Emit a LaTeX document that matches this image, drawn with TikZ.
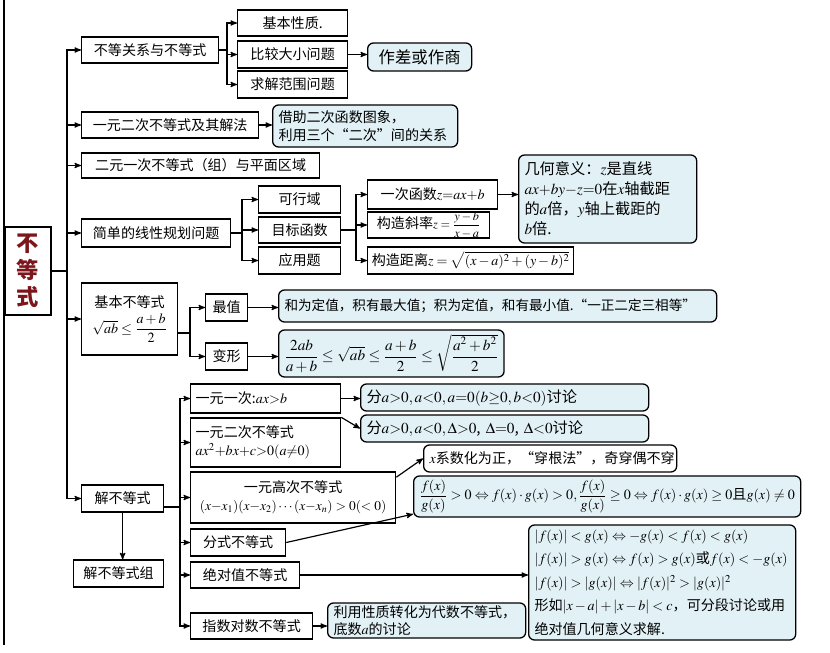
\documentclass[tikz,border=0pt]{standalone}
\usepackage{amssymb,amsmath}
\usepackage{mathptmx}
\usepackage{fontspec}
\setmainfont{Noto Sans CJK SC}
\usepackage{tikz}
\usetikzlibrary{shapes,arrows,positioning}
\usepackage{xcolor}
\definecolor{tipblue}{RGB}{226,241,246}
\definecolor{titlered}{RGB}{125,22,28}
\newcommand{\fs}{\fontsize{12}{15}\selectfont}
\newcommand{\fb}{\fontsize{13}{17}\selectfont}

\begin{document}
\begin{tikzpicture}[x=0.03cm,y=-0.03cm,>=stealth',line width=1pt,
  box/.style={draw,line width=1.1pt,inner sep=1pt,align=center,anchor=west,font=\fs},
  tip/.style={box,rounded corners=5pt,fill=tipblue,inner xsep=5pt,align=left,font=\fb},
  sz/.style 2 args={minimum width=#1*0.3mm,minimum height=#2*0.3mm}]
\useasboundingbox (0,0) rectangle (830,653);
\draw (4,0) -- (4,645);
\node [box,sz={46}{88},anchor=center,text=titlered,font=\fontsize{19}{23}\selectfont\bfseries] (top) at (28,271) {不\\等\\式};

% first level
\node [box,sz={137}{26}] (b1) at (81,50) {不等关系与不等式};
\node [box,sz={177}{26}] (b2) at (81,125) {一元二次不等式及其解法};
\node [box,sz={238}{25}] (b3) at (81,165.5) {二元一次不等式（组）与平面区域};
\node [box,sz={149}{28}] (b4) at (81,233) {简单的线性规划问题};
\node [box,sz={96}{72}] (b5) at (81,319) {基本不等式\\[4pt]$\sqrt{ab}\le\dfrac{a+b}{2}$};
\node [box,sz={82}{27}] (b6) at (81,498.5) {解不等式};
\node [box,sz={90}{27}] (b7) at (73,573.5) {解不等式组};

% second level
\node [box,sz={110}{26}] (c1) at (237,23) {基本性质.};
\node [box,sz={110}{27}] (c2) at (237,54.5) {比较大小问题};
\node [box,sz={110}{27}] (c3) at (237,84.5) {求解范围问题};
\node [tip,sz={104}{28},align=center,font=\fontsize{14}{17}\selectfont] (d1) at (367,57) {作差或作商};
\node [tip,sz={185}{42},text width=5.2cm,font=\fs] (d2) at (272,126) {借助二次函数图象，\\利用三个“二次”间的关系};

\node [box,sz={82}{27}] (e1) at (258,199.5) {可行域};
\node [box,sz={82}{26}] (e2) at (258,230) {目标函数};
\node [box,sz={82}{27}] (e3) at (258,260.5) {应用题};
\node [box,sz={130}{29}] (f1) at (367,194.5) {一次函数$z{=}ax{+}b$};
\node [box,sz={122}{26},inner ysep=0pt] (f2) at (367,225) {构造斜率{\fontsize{10.5}{12}\selectfont$z=\dfrac{y-b}{x-a}$}};
\node [box,sz={206}{27}] (f3) at (367,260.5) {构造距离$z=\sqrt{(x-a)^2+(y-b)^2}$};
\node [tip,sz={178}{88},text width=4.99cm] (g1) at (518,199) {几何意义：$z$是直线\\$ax{+}by{-}z{=}0$在$x$轴截距\\的$a$倍，$y$轴上截距的\\$b$倍.};

\node [box,sz={42}{27}] (h1) at (205,307.5) {最值};
\node [box,sz={42}{27}] (h2) at (205,356.5) {变形};
\node [tip,sz={438}{32},text width=12.79cm,font=\fontsize{11.6}{14}\selectfont] (i1) at (278,306) {和为定值，积有最大值；积为定值，和有最小值.“一正二定三相等”};
\node [tip,sz={199}{47},align=center] (i2) at (278,353.5) {$\dfrac{2ab}{a+b}\le\sqrt{ab}\le\dfrac{a+b}{2}\le\sqrt{\dfrac{a^2+b^2}{2}}$};

\node [box,sz={150}{29},align=left,text width=4.2cm] (j1) at (190,398.5) {一元一次:$ax{>}b$};
\node [box,sz={150}{49},align=left,text width=4.2cm] (j2) at (190,442.5) {一元二次不等式\\$ax^2{+}bx{+}c{>}0(a{\ne}0)$};
\node [box,sz={205}{51}] (j3) at (190,497.5) {一元高次不等式\\{\fontsize{11.5}{14}\selectfont$(x{-}x_1)(x{-}x_2)\cdots(x{-}x_n)>0(<0)$}};
\node [box,sz={95}{27}] (j4) at (190,542.5) {分式不等式};
\node [box,sz={109}{26}] (j5) at (190,575) {绝对值不等式};
\node [box,sz={122}{26}] (j6) at (190,626) {指数对数不等式};

\node [tip,sz={288}{27},text width=8.29cm] (k1) at (360,397.5) {分$a{>}0,a{<}0,a{=}0(b{\ge}0,b{<}0)$讨论};
\node [tip,sz={288}{27},text width=8.29cm] (k2) at (360,428.5) {分$a{>}0,a{<}0,\Delta{>}0$, $\boldsymbol{\Delta}{=}0$, $\boldsymbol{\Delta}{<}0$讨论};
\node [tip,sz={253}{27},text width=7.24cm,fill=white,font=\fs] (k3) at (423,458.5) {$x$系数化为正，“穿根法”，奇穿偶不穿};
\node [tip,sz={387}{41},text width=11.26cm,font=\fs] (k4) at (413,496.5) {$\dfrac{f(x)}{g(x)}>0\Leftrightarrow f(x)\cdot g(x)>0,\dfrac{f(x)}{g(x)}\ge0\Leftrightarrow f(x)\cdot g(x)\ge0$且$g(x)\ne0$};
\node [tip,sz={267}{115},text width=7.66cm,font=\fs] (k5) at (528,582.5) {$|f(x)|<g(x)\Leftrightarrow-g(x)<f(x)<g(x)$\\[5pt]$|f(x)|>g(x)\Leftrightarrow f(x)>g(x)$或$f(x)<-g(x)$\\[5pt]$|f(x)|>|g(x)|\Leftrightarrow|f(x)|^2>|g(x)|^2$\\[5pt]形如$|x-a|+|x-b|<c$，可分段讨论或用\\[5pt]绝对值几何意义求解.};
\node [tip,sz={198}{35},text width=5.59cm,font=\fs] (k6) at (327,620.5) {利用性质转化为代数不等式，\\底数$a$的讨论};

% connectors
\coordinate (t) at (67,271);
\draw (top.east) -- (t);
\foreach \n in {b1,b2,b3,b4,b5,b6}
  \draw [->] (t) |- (\n.west);

\coordinate (s1) at (227,50);
\draw (b1.east) -- (s1);
\foreach \n in {c1,c2,c3}
  \draw [->] (s1) |- (\n.west);
\draw [->] (c2.east) -- (c2.east -| d1.west);
\draw [->] (b2.east) -- (b2.east -| d2.west);

\coordinate (s4) at (242,233);
\draw (b4.east) -- (s4);
\foreach \n in {e1,e2,e3}
  \draw [->] (s4) |- (\n.west);
\coordinate (s5) at (356,230);
\draw (e2.east) -- (s5);
\foreach \n in {f1,f2,f3}
  \draw [->] (s5) |- (\n.west);
\draw [->] (f1.east) -- (f1.east -| g1.west);

\coordinate (s6) at (190,333);
\draw (b5.east |- s6) -- (s6);
\foreach \n in {h1,h2}
  \draw [->] (s6) |- (\n.west);
\draw [->] (h1.east) -- (h1.east -| i1.west);
\draw [->] (h2.east) -- (h2.east -| i2.west);

\coordinate (s7) at (180,507);
\draw (b6.east |- s7) -- (s7);
\foreach \n in {j1,j2,j3,j4,j5,j6}
  \draw [->] (s7) |- (\n.west);
\draw [->] (b6.south) -- (b6.south |- b7.north);

\draw [->] (j1.east) -- (j1.east -| k1.west);
\draw [->] (j2.north east) -- (k2.west);
\draw [->] ([yshift=-5pt]j3.north east) -- (k3.west);
\draw [->] (j4.east) -- ([yshift=3pt]k4.south west);
\draw [->] (j5.east) -- (j5.east -| k5.west);
\draw [->] (j6.east) -- (j6.east -| k6.west);
\end{tikzpicture}
\end{document}
